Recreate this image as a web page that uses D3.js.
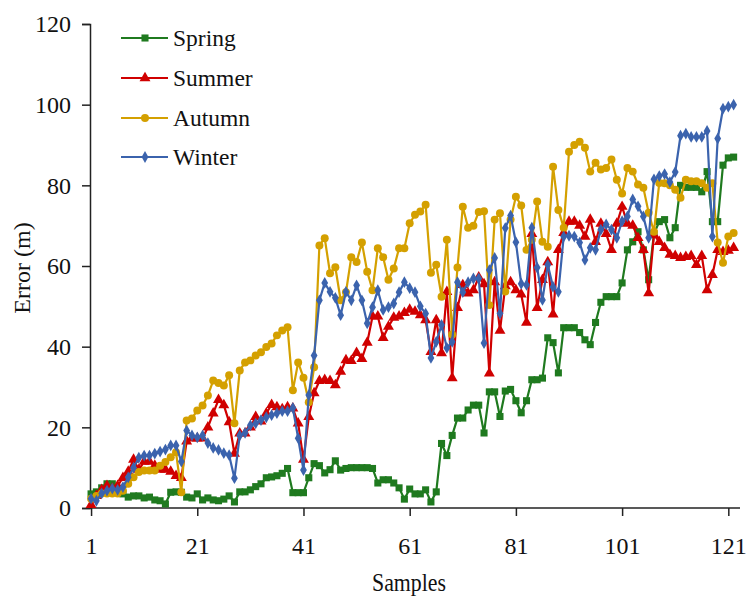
<!DOCTYPE html>
<html>
<head>
<meta charset="utf-8">
<script src="https://cdn.jsdelivr.net/npm/d3@7"></script>
<style>
  body { margin: 0; background: #fff; }
</style>
</head>
<body>
<div id="chart"></div>
<script>
// error per sample (samples 1..122)
const spring = [
  3.5, 4, 5, 6, 6, 4.8, 3.5, 2.7, 3, 3, 2.5, 2.7, 2, 1.8, 1, 3.9, 4, 3.9, 2.7, 2.5,
  3.5, 2, 2.5, 2, 1.8, 2.2, 3, 1.5, 4, 4, 4.5, 5.3, 6, 7.5, 7.7, 8, 8.6, 9.8,
  3.8, 3.8, 3.8, 7.5, 11, 10.5, 8.7, 9.5, 11.7, 9.4, 9.8, 10, 10, 10, 10, 9.8, 6.2, 7, 7, 6.2, 5, 2.2, 4.7, 3.5, 3.5, 4.5, 1.5, 4,
  16, 13, 18, 22.3, 22.3, 24.3, 25.5, 25.5, 18.6, 28.8, 28.8, 22.7, 29, 29.4, 26.6, 23.6, 26.6,
  31.8, 31.8, 32.2, 42.2, 41, 33.5, 44.7, 44.7, 44.7, 43.5, 41.7, 40.5, 46, 51, 52.4, 52.4, 52.4, 55.8, 64,
  66, 68.5, 64, 56.6, 68, 71, 71.5, 67, 69.5, 80, 79.5, 79.5, 79.5, 78.4, 83.4, 71, 71, 85, 86.8, 87
];
const summer = [
  0.8, 3, 4.5, 5.5, 4.8, 5.5, 7.5, 9, 12, 9.5, 11.5, 11.5, 10.5, 9.5, 9.5, 9, 8, 7.5, 16.5, 17.3,
  17.3, 17.3, 20, 23.5, 26.8, 25.5, 21.3, 13.5, 18.5, 18.5, 20, 22.6, 21.5, 23.5, 25.6, 25, 24.5, 25, 24.7, 21, 12,
  22.6, 28.5, 31.5, 31.8, 31.5, 30.5, 33.8, 36.7, 36.5, 38.5, 37, 41, 47.5, 47.5, 42.2, 45, 47.2, 47.5, 48.4, 49.2, 48.7, 47.8,
  46.6, 38.7, 46.6, 38.4, 53.6, 32.2, 49.6, 55.3, 53.2, 54, 57.2, 55.5, 33.4, 56, 44, 55, 56, 54, 53, 46,
  68, 49.6, 56.6, 61, 48, 64, 68.2, 71, 71, 70, 67.3, 71.5, 66, 70.5, 68, 64, 70.5, 74.7, 70.5, 70, 67,
  64, 53.3, 67.7, 66, 64.5, 62.8, 62.5, 62, 62.3, 62.5, 60.3, 62.5, 54, 57.8, 64, 63.5, 63.8, 64.5
];
const autumn = [
  2.3, 3, 3.6, 3.6, 3.6, 3.6, 4.3, 6, 7.6, 8.9, 9.3, 9.3, 9.3, 10.5, 11.4, 12.6, 13.8, 3.9,
  21.7, 22.2, 24.2, 25.4, 27.9, 31.6, 31, 30.4, 32.9, 21, 34.1, 36.1, 36.6, 37.8, 38.6, 39.9, 40.8, 42.8, 44, 44.8,
  29.2, 36.1, 32.3, 26.2, 34.9, 65.1, 66.9, 58.2, 59.7, 51.5, 53.5, 62.2, 61, 65.8, 58.6, 54, 64.4, 62.2, 56.6, 59.4, 64.4, 64.4, 70.6,
  72.7, 73.5, 75.2, 58.3, 60.3, 52.4, 66.5, 43, 59.6, 74.7, 69.5, 70, 73.4, 73.6, 50.3, 71.5, 73.1, 53.7, 71.5, 77.2, 75, 64,
  66.5, 76, 66, 64.8, 84.6, 73.9, 69.5, 88.3, 90, 90.8, 89.3, 83.4, 85.6, 83.9, 84.3, 86.4, 81.4, 78, 84.3, 83.4, 80.2,
  79.4, 73.2, 68.5, 80.6, 80.5, 80, 78.9, 76.9, 81.4, 81, 81, 80.5, 79.4, 80.5, 65.8, 60.8, 67.3, 68.2
];
const winter = [
  2.3, 1.8, 3.6, 4.3, 4.8, 4.5, 5.2, 7.6, 10, 12.5, 13, 13, 13.5, 14, 14.5, 15.5, 15.5, 11.5, 19.2, 18,
  17.5, 18, 16.1, 14.9, 14.4, 13.6, 13.1, 7.4, 18, 18.6, 20.5, 21, 21.8, 22.5, 23, 23.5, 24, 24, 24.8, 17.3, 9.4,
  28, 37.8, 51.5, 55.8, 53.6, 52.1, 47.8, 53.6, 51.5, 55.2, 51.5, 45.8, 49.8, 54, 49.1, 49.8, 50.7, 53.5, 56, 54.5, 53.5, 50,
  48.2, 37.2, 41.2, 45.4, 39.7, 41.2, 56, 53.5, 56, 56.9, 56.9, 40.9, 59, 62, 48.2, 69.4, 72.5, 65.9, 55.6, 55.3,
  69.5, 59.6, 51.6, 60.3, 54.8, 53.6, 67.3, 67.5, 67.3, 65.8, 61.5, 64.5, 64, 69, 70.3, 69, 67, 71.1,
  72.3, 76.5, 74.8, 72.3, 67, 81.5, 82.3, 82.8, 80.8, 83.3, 92.3, 92.8, 92, 92, 92, 93.5, 67.3, 91.6, 99, 99.5, 100
];

const seriesNames = ["Spring", "Summer", "Autumn", "Winter"];
const xTicks = [1, 21, 41, 61, 81, 101, 121];
const yTicks = [0, 20, 40, 60, 80, 100, 120];

const FONT = "'Liberation Serif', 'Times New Roman', 'DejaVu Serif', serif";
const W = 748, H = 596;
const svg = d3.select("#chart").append("svg")
    .attr("width", W)
    .attr("height", H)
    .style("font-family", FONT);

const x = d3.scaleLinear().domain([0.8, 123.2]).range([90, 740]);
const y = d3.scaleLinear().domain([0, 120]).range([508, 24]);

// axes
const yAxis = d3.axisLeft(y).tickValues(yTicks).tickSize(8).tickPadding(11);
const xAxis = d3.axisBottom(x).tickValues(xTicks).tickSize(8).tickPadding(21);

const gy = svg.append("g").attr("transform", "translate(90,0)").call(yAxis);
const gx = svg.append("g").attr("transform", "translate(0,508)").call(xAxis);

[gx, gy].forEach(g => {
    g.attr("font-family", null).attr("font-size", null);
    g.select(".domain").attr("stroke", "#222").attr("stroke-width", 1.5);
    g.selectAll(".tick line").attr("stroke", "#222").attr("stroke-width", 1.5);
    g.selectAll(".tick text")
        .attr("fill", "#111")
        .style("font-family", FONT)
        .style("font-size", "24px");
});
gx.select(".domain").attr("d", "M90,0H740");

svg.append("text")
    .attr("x", 409).attr("y", 591)
    .attr("text-anchor", "middle")
    .attr("textLength", 74)
    .attr("lengthAdjust", "spacingAndGlyphs")
    .style("font-family", FONT)
    .style("font-size", "25px")
    .attr("fill", "#111")
    .text("Samples");

svg.append("text")
    .attr("transform", "translate(30,268) rotate(-90)")
    .attr("text-anchor", "middle")
    .style("font-family", FONT)
    .style("font-size", "24px")
    .attr("fill", "#111")
    .text("Error (m)");

// series
const colors = ["#1f7a1f", "#d00000", "#d4a000", "#3b63ad"];
const symbols = [d3.symbolSquare, d3.symbolTriangle, d3.symbolCircle, d3.symbolDiamond];
const sizes = [50, 52, 50, 40];
const allData = [spring, summer, autumn, winter];

const line = d3.line()
    .x((d, i) => x(i + 1))
    .y(d => y(d));

allData.forEach((vals, k) => {
    const g = svg.append("g");
    g.append("path")
        .datum(vals)
        .attr("fill", "none")
        .attr("stroke", colors[k])
        .attr("stroke-width", 2.2)
        .attr("stroke-linejoin", "round")
        .attr("d", line);
    g.selectAll("path.pt")
        .data(vals)
        .enter().append("path")
        .attr("class", "pt")
        .attr("transform", (d, i) => "translate(" + x(i + 1) + "," + y(d) + ")")
        .attr("d", d3.symbol().type(symbols[k]).size(sizes[k]))
        .attr("fill", colors[k]);
});

// legend
const legend = svg.append("g").attr("transform", "translate(121,0)");
const legendY = [38, 78, 118, 157];
seriesNames.forEach((name, k) => {
    const row = legend.append("g").attr("transform", "translate(0," + legendY[k] + ")");
    row.append("line")
        .attr("x1", 0).attr("x2", 47)
        .attr("stroke", colors[k]).attr("stroke-width", 2.2);
    row.append("path")
        .attr("transform", "translate(24,0)")
        .attr("d", d3.symbol().type(symbols[k]).size(sizes[k]))
        .attr("fill", colors[k]);
    row.append("text")
        .attr("x", 52).attr("y", 8)
        .style("font-family", FONT)
        .style("font-size", "23.5px")
        .attr("fill", "#111")
        .text(name);
});
</script>
</body>
</html>
